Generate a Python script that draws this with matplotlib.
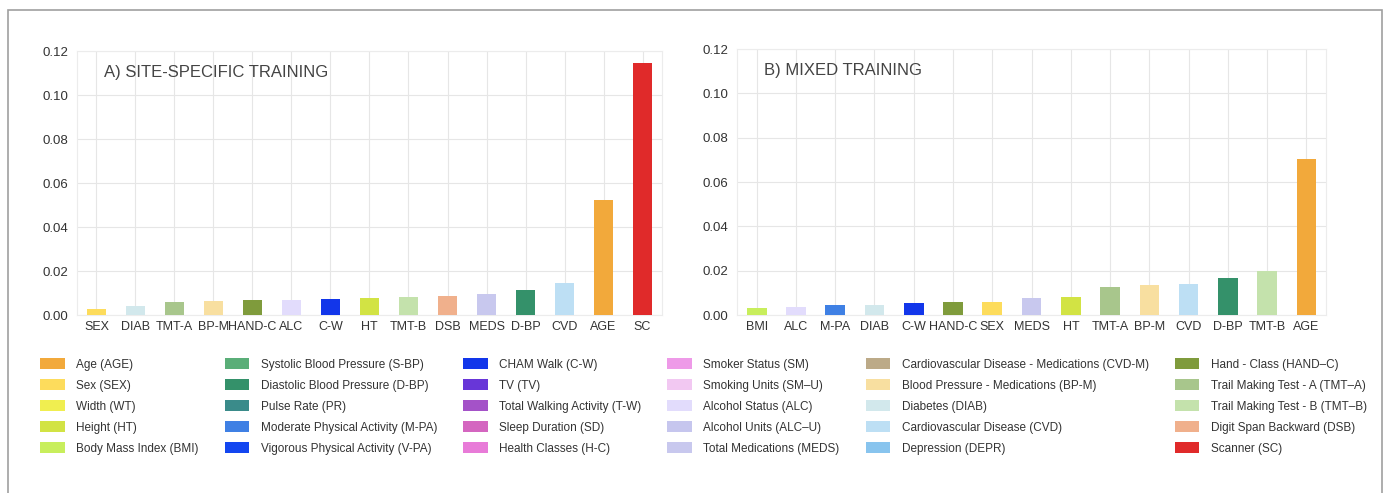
import matplotlib
matplotlib.use('Agg')
import matplotlib.pyplot as plt
from matplotlib.patches import Patch, Rectangle

plt.rcParams['font.family'] = ['Liberation Sans', 'DejaVu Sans']

# legend entries: (label, short code, colour)
leg_labels = ['Age (AGE)', 'Sex (SEX)', 'Width (WT)', 'Height (HT)', 'Body Mass Index (BMI)',
              'Systolic Blood Pressure (S-BP)', 'Diastolic Blood Pressure (D-BP)', 'Pulse Rate (PR)',
              'Moderate Physical Activity (M-PA)', 'Vigorous Physical Activity (V-PA)',
              'CHAM Walk (C-W)', 'TV (TV)', 'Total Walking Activity (T-W)', 'Sleep Duration (SD)',
              'Health Classes (H-C)',
              'Smoker Status (SM)', 'Smoking Units (SM\u2013U)', 'Alcohol Status (ALC)',
              'Alcohol Units (ALC\u2013U)', 'Total Medications (MEDS)',
              'Cardiovascular Disease - Medications (CVD-M)', 'Blood Pressure - Medications (BP-M)',
              'Diabetes (DIAB)', 'Cardiovascular Disease (CVD)', 'Depression (DEPR)',
              'Hand - Class (HAND\u2013C)', 'Trail Making Test - A (TMT\u2013A)',
              'Trail Making Test - B (TMT\u2013B)', 'Digit Span Backward (DSB)', 'Scanner (SC)']
leg_codes = ['AGE', 'SEX', 'WT', 'HT', 'BMI',
             'S-BP', 'D-BP', 'PR', 'M-PA', 'V-PA',
             'C-W', 'TV', 'T-W', 'SD', 'H-C',
             'SM', 'SM-U', 'ALC', 'ALC-U', 'MEDS',
             'CVD-M', 'BP-M', 'DIAB', 'CVD', 'DEPR',
             'HAND-C', 'TMT-A', 'TMT-B', 'DSB', 'SC']
leg_colors = ['#f2a93b', '#fddc5c', '#f0ee50', '#d2e344', '#c8ee5c',
              '#5aae78', '#34916a', '#3a8b8a', '#3f80e4', '#1346f0',
              '#1236ea', '#6836d8', '#a452c8', '#d466c0', '#e87bd8',
              '#ee9ae8', '#f2c8f2', '#e2dcfc', '#c6c6ee', '#c8c8ee',
              '#bcaa88', '#f8dfa0', '#d2e8ec', '#bddff4', '#88c4ee',
              '#7f9b3c', '#a8c68c', '#c4e2ac', '#f0b08c', '#e02a2a']
col = dict(zip(leg_codes, leg_colors))

# A) site-specific training
cats_a = ['SEX', 'DIAB', 'TMT-A', 'BP-M', 'HAND-C', 'ALC', 'C-W', 'HT',
          'TMT-B', 'DSB', 'MEDS', 'D-BP', 'CVD', 'AGE', 'SC']
vals_a = [0.0026, 0.0043, 0.0058, 0.0064, 0.0068, 0.0068, 0.0074, 0.0077,
          0.0082, 0.0088, 0.0094, 0.0115, 0.0146, 0.0521, 0.1147]

# B) mixed training
cats_b = ['BMI', 'ALC', 'M-PA', 'DIAB', 'C-W', 'HAND-C', 'SEX', 'MEDS',
          'HT', 'TMT-A', 'BP-M', 'CVD', 'D-BP', 'TMT-B', 'AGE']
vals_b = [0.0031, 0.0036, 0.0045, 0.0045, 0.0056, 0.0057, 0.0057, 0.0078,
          0.0083, 0.0125, 0.0136, 0.0139, 0.0167, 0.0200, 0.0702]

fig = plt.figure(figsize=(13.87, 4.93), dpi=100)

# grey frame round the figure
fig.patches.append(Rectangle((8 / 1387, -0.05), 1374 / 1387, 1.05 - 10 / 493,
                             transform=fig.transFigure, fill=False,
                             ec='#a0a0a0', lw=1.2, zorder=0))

axA = fig.add_axes([0.0555, 0.361, 0.4218, 0.5355])
axB = fig.add_axes([0.5314, 0.361, 0.4247, 0.5395])

for ax, cats, vals, title in [(axA, cats_a, vals_a, 'A) SITE-SPECIFIC TRAINING'),
                              (axB, cats_b, vals_b, 'B) MIXED TRAINING')]:
    x = range(len(cats))
    ax.bar(x, vals, width=0.5, color=[col[c] for c in cats], zorder=3)
    ax.set_xticks(list(x))
    ax.set_xticklabels(cats, fontsize=9, color='#333333')
    ax.set_xlim(-0.5, len(cats) - 0.5)
    ax.set_ylim(0, 0.12)
    ax.set_yticks([0, 0.02, 0.04, 0.06, 0.08, 0.10, 0.12])
    ax.set_yticklabels(['0.00', '0.02', '0.04', '0.06', '0.08', '0.10', '0.12'],
                       fontsize=9.5, color='#333333')
    ax.grid(True, color='#e6e6e6', lw=0.8, zorder=0)
    ax.set_axisbelow(True)
    for s in ax.spines.values():
        s.set_color('#ececec')
        s.set_linewidth(0.8)
    ax.tick_params(axis='x', length=0, pad=4)
    ax.tick_params(axis='y', length=0, pad=6)
    ax.text(0.046, 0.918, title, transform=ax.transAxes, fontsize=12,
            color='#444444', va='center', ha='left')

handles = [Patch(facecolor=c, edgecolor='none') for c in leg_colors]
fig.legend(handles, leg_labels, ncol=6, loc='upper left',
           bbox_to_anchor=(0.0255, 0.283), frameon=False, fontsize=8.5,
           handlelength=2.1, handleheight=1.0, handletextpad=0.95,
           columnspacing=2.2, labelspacing=0.74, labelcolor='#333333',
           borderaxespad=0.0)

fig.savefig('out.png', dpi=100)
